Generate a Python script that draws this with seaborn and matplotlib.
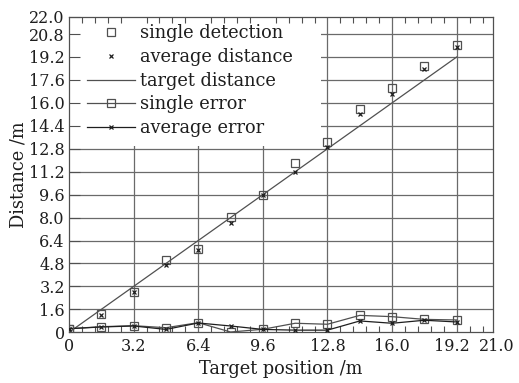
import matplotlib
matplotlib.use("Agg")
import matplotlib.pyplot as plt
from matplotlib.lines import Line2D
from matplotlib.patches import Rectangle
from matplotlib.ticker import MultipleLocator, FixedLocator
from matplotlib.transforms import ScaledTranslation
import seaborn as sns
import pandas as pd

positions = [0, 1.6, 3.2, 4.8, 6.4, 8.0, 9.6, 11.2, 12.8, 14.4, 16.0, 17.6, 19.2]
single_detection = [0.25, 1.27, 2.8, 5.04, 5.78, 8.01, 9.57, 11.82, 13.28, 15.54, 17.05, 18.56, 20.04]
average_distance = [0.2, 1.2, 2.78, 4.67, 5.75, 7.6, 9.55, 11.19, 12.93, 15.19, 16.6, 18.37, 19.9]
target_distance = positions
single_error = [0.25, 0.39, 0.46, 0.32, 0.67, 0.02, 0.21, 0.63, 0.56, 1.18, 1.09, 0.9, 0.86]
average_error = [0.25, 0.37, 0.44, 0.2, 0.65, 0.44, 0.2, 0.15, 0.15, 0.79, 0.63, 0.84, 0.72]

xticks = [0, 3.2, 6.4, 9.6, 12.8, 16.0, 19.2, 21.0]
xticklabels = ["0", "3.2", "6.4", "9.6", "12.8", "16.0", "19.2", "21.0"]
yticks = [0, 1.6, 3.2, 4.8, 6.4, 8.0, 9.6, 11.2, 12.8, 14.4, 16.0, 17.6, 19.2, 20.8, 22.0]
yticklabels = ["0", "1.6", "3.2", "4.8", "6.4", "8.0", "9.6", "11.2", "12.8", "14.4",
               "16.0", "17.6", "19.2", "20.8", "22.0"]

df = pd.DataFrame({"pos": positions, "single": single_detection, "avg": average_distance,
                   "target": target_distance, "serr": single_error, "aerr": average_error})

plt.rcParams['font.family'] = ['DejaVu Serif']
ink = "#1e1e1e"
gray = "#505050"
gridc = "#6a6a6a"

fig = plt.figure(figsize=(5.19, 3.83), dpi=100)
ax = fig.add_axes([0.133, 0.1324, 0.817, 0.8236])

sq = dict(marker="s", markersize=6, markerfacecolor="none", markeredgecolor=gray, markeredgewidth=0.9)
xm = dict(marker="x", markersize=3.5, markeredgecolor=ink, markeredgewidth=0.9)

# grid drawn manually so the legend backdrop can hide it while ticks stay visible
for xv in xticks[1:-1]:
    ax.axvline(xv, color=gridc, linewidth=0.9, zorder=0.8)
for yv in yticks[1:-1]:
    ax.axhline(yv, color=gridc, linewidth=0.9, zorder=0.8)
ax.add_patch(Rectangle((0, 0.59), 0.595, 0.41, transform=ax.transAxes,
                       facecolor="white", edgecolor="none", zorder=1))

sns.lineplot(data=df, x="pos", y="target", ax=ax, color=gray, linewidth=0.9, zorder=3)
sns.lineplot(data=df, x="pos", y="serr", ax=ax, color=gray, linewidth=0.9, zorder=3, **sq)
sns.lineplot(data=df, x="pos", y="aerr", ax=ax, color=ink, linewidth=0.9, zorder=3, **xm)
sns.lineplot(data=df, x="pos", y="single", ax=ax, linestyle="none", zorder=4, **sq)
sns.lineplot(data=df, x="pos", y="avg", ax=ax, linestyle="none", zorder=4, **xm)

ax.set_xlim(0, 21)
ax.set_ylim(0, 22)
ax.xaxis.set_major_locator(FixedLocator(xticks))
ax.set_xticklabels(xticklabels)
ax.yaxis.set_major_locator(FixedLocator(yticks))
ax.set_yticklabels(yticklabels)
ax.xaxis.set_minor_locator(MultipleLocator(0.64))
ax.set_axisbelow(False)
ax.tick_params(axis="x", which="major", direction="in", length=0, labelsize=11.5,
               colors=ink, pad=4)
ax.tick_params(axis="x", which="minor", direction="in", length=4, top=True, bottom=True,
               color=gray, width=0.8)
ax.tick_params(axis="y", which="major", direction="in", length=8, labelsize=11.5,
               labelcolor=ink, pad=3, color=gray)
ax.tick_params(axis="y", which="minor", left=False)
for s in ax.spines.values():
    s.set_color(gray)
    s.set_linewidth(0.9)

labs = ax.get_xticklabels()
labs[-2].set_transform(labs[-2].get_transform() + ScaledTranslation(-5 / 100, 0, fig.dpi_scale_trans))
labs[-1].set_transform(labs[-1].get_transform() + ScaledTranslation(4 / 100, 0, fig.dpi_scale_trans))

ax.set_xlabel("Target position /m", fontsize=12.8, color=ink, labelpad=4)
ax.set_ylabel("Distance /m", fontsize=12.8, color=ink, labelpad=1)

handles = [
    Line2D([], [], linestyle="none", **sq),
    Line2D([], [], linestyle="none", **xm),
    Line2D([], [], color=gray, linewidth=0.9),
    Line2D([], [], color=gray, linewidth=0.9, **sq),
    Line2D([], [], color=ink, linewidth=0.9, **xm),
]
labels = ["single detection", "average distance", "target distance", "single error", "average error"]
leg = ax.legend(handles, labels, loc="upper left", fontsize=12.8, frameon=False,
                handlelength=2.7, handletextpad=0.3, labelspacing=0.32, borderpad=0.2,
                borderaxespad=0, bbox_to_anchor=(14 / 424, 1 - 4 / 315.6))
for t in leg.get_texts():
    t.set_color(ink)
leg.set_zorder(5)

fig.savefig("out.png", dpi=100)
